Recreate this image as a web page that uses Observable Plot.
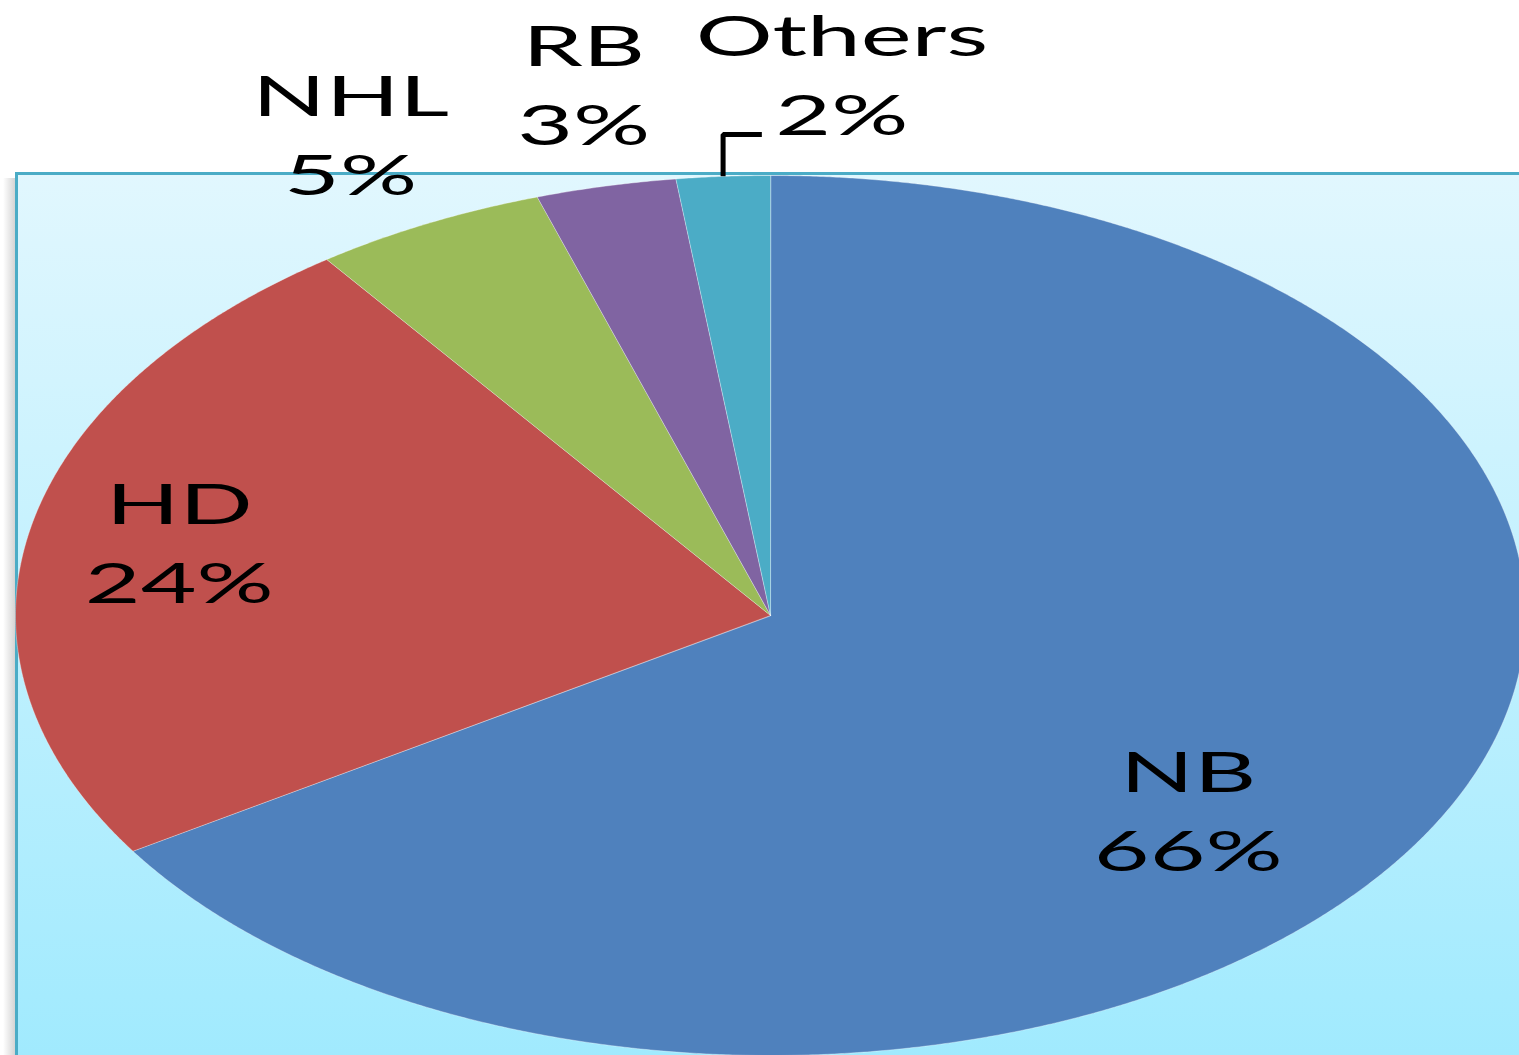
<!DOCTYPE html>
<html><head><meta charset="utf-8">
<script src="https://cdn.jsdelivr.net/npm/d3@7"></script>
<script src="https://cdn.jsdelivr.net/npm/@observablehq/plot@0.6"></script>
<style>
html,body{margin:0;padding:0;background:#fff;}
#wrap{position:relative;width:1519px;height:1055px;overflow:hidden;background:#fff;}
#shadow{position:absolute;left:3px;width:12px;top:178px;bottom:0;background:linear-gradient(to right,rgba(255,255,255,0),#d4d4d4);}
#panel{position:absolute;left:15px;top:172px;right:-10px;bottom:-10px;border-top:3px solid #4bacc6;border-left:3px solid #4bacc6;background:linear-gradient(#e1f7fe,#a0eafe);}
#chart{position:absolute;left:0;top:0;}
</style></head><body>
<div id="wrap"><div id="shadow"></div><div id="panel"></div><div id="chart"></div></div>
<script>
// ---- data ----
const categories = ["NB", "HD", "NHL", "RB", "Others"];
const shares = [66, 24, 5, 3, 2];
const colors = ["#4f81bd", "#c0504d", "#9bbb59", "#8064a2", "#4bacc6"];

// ---- layout (label placement relative to slice mid-angle) ----
const labelRadius = [0.71, 0.80, 1.225, 1.23, 1.232];
const labelTurnDeg = [10, 1, 0, 1, 8];
const textStretch = 1.72;

const W = 1519, H = 1055, CX = 770, CY = 615, RX = 755, RY = 440;

const data = categories.map((name, i) => ({name, value: shares[i]}));
const total = d3.sum(shares);
const arcs = d3.pie().sort(null).value(d => d.value)(data);

const slicePts = [];
arcs.forEach(p => {
  const name = p.data.name;
  slicePts.push({name, x: 0, y: 0});
  const n = Math.max(2, Math.ceil((p.endAngle - p.startAngle) / (Math.PI / 720)));
  for (let i = 0; i <= n; i++) {
    const a = p.startAngle + (p.endAngle - p.startAngle) * i / n;
    slicePts.push({name, x: Math.sin(a), y: Math.cos(a)});
  }
});

const labels = arcs.map((p, i) => {
  const mid = (p.startAngle + p.endAngle) / 2 + labelTurnDeg[i] * Math.PI / 180;
  return {
    name: p.data.name,
    text: `${p.data.name}\n${Math.round(p.data.value / total * 100)}%`,
    x: labelRadius[i] * Math.sin(mid),
    y: labelRadius[i] * Math.cos(mid)
  };
});

// leader line for the last (small) slice
const lastArc = arcs[arcs.length - 1];
const lastMid = (lastArc.startAngle + lastArc.endAngle) / 2;
const lastLab = labels[labels.length - 1];
const edge = {x: Math.sin(lastMid), y: Math.cos(lastMid)};
const leader = [
  {x: edge.x, y: edge.y},
  {x: edge.x, y: lastLab.y - 0.135},
  {x: lastLab.x - 0.106, y: lastLab.y - 0.135}
];

const svg = Plot.plot({
  width: W, height: H,
  marginTop: 0, marginRight: 0, marginBottom: 0, marginLeft: 0,
  style: {background: "transparent", overflow: "visible"},
  x: {domain: [-CX / RX, (W - CX) / RX], axis: null},
  y: {domain: [(CY - H) / RY, CY / RY], axis: null},
  color: {domain: categories, range: colors},
  marks: [
    Plot.line(slicePts, {x: "x", y: "y", z: "name", fill: "name", stroke: "#ffffff", strokeOpacity: 0.35, strokeWidth: 1, curve: "linear-closed"}),
    Plot.line(leader, {x: "x", y: "y", stroke: "#000", strokeWidth: 5, strokeLinejoin: "miter", strokeLinecap: "butt"}),
    Plot.text(labels, {x: "x", y: "y", dy: -5, text: "text", fontSize: 56, lineHeight: 1.41, fontFamily: "Lato", fill: "#000", textAnchor: "middle"})
  ]
});
svg.style.maxWidth = "none";
svg.querySelectorAll('g[aria-label="text"] text').forEach(t => {
  const x = t.getAttribute("x"), y = t.getAttribute("y");
  let tr = t.getAttribute("transform") || "";
  if (x != null || y != null) {
    tr = `translate(${x || 0},${y || 0}) ` + tr;
    t.removeAttribute("x"); t.removeAttribute("y");
  }
  t.setAttribute("transform", tr + ` scale(${textStretch},1)`);
});
document.getElementById("chart").appendChild(svg);
</script>
</body></html>
